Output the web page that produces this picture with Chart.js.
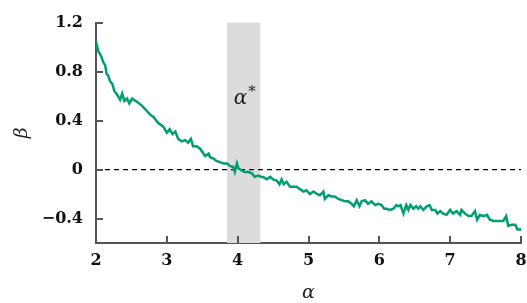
<!DOCTYPE html>
<html>
<head>
<meta charset="utf-8">
<script src="https://cdn.jsdelivr.net/npm/chart.js@4"></script>
<style>
  html, body { margin: 0; padding: 0; background: #fff; }
  #wrap { width: 527px; height: 303px; }
</style>
</head>
<body>
<div id="wrap"><canvas id="chart"></canvas></div>
<script>
const alphaVals = [2.00, 2.03, 2.07, 2.10, 2.13, 2.15, 2.17, 2.20, 2.23, 2.26, 2.30, 2.34, 2.37, 2.40, 2.44, 2.47,
  2.51, 2.56, 2.61, 2.65, 2.70, 2.76, 2.81, 2.88, 2.95, 3.00, 3.04, 3.08, 3.12, 3.16, 3.21, 3.26, 3.30, 3.34,
  3.37, 3.42, 3.47, 3.54, 3.59, 3.61, 3.66, 3.70, 3.75, 3.80, 3.85, 3.89, 3.94, 3.96, 3.99, 4.01, 4.06, 4.10,
  4.15, 4.20, 4.24, 4.29, 4.34, 4.36, 4.41, 4.46, 4.50, 4.55, 4.59, 4.62, 4.65, 4.69, 4.74, 4.79, 4.83, 4.88,
  4.93, 4.97, 5.02, 5.07, 5.12, 5.16, 5.21, 5.23, 5.28, 5.33, 5.37, 5.42, 5.47, 5.52, 5.56, 5.61, 5.64, 5.68,
  5.72, 5.75, 5.80, 5.84, 5.89, 5.94, 5.99, 6.03, 6.07, 6.10, 6.15, 6.20, 6.24, 6.27, 6.30, 6.34, 6.38, 6.41,
  6.44, 6.48, 6.52, 6.55, 6.58, 6.62, 6.67, 6.71, 6.74, 6.79, 6.82, 6.86, 6.90, 6.95, 7.00, 7.04, 7.09, 7.14,
  7.16, 7.21, 7.26, 7.30, 7.35, 7.38, 7.42, 7.47, 7.52, 7.56, 7.61, 7.66, 7.70, 7.75, 7.79, 7.82, 7.87, 7.92,
  7.95, 7.99, 8.00];
const betaVals = [1.05, 0.97, 0.93, 0.88, 0.85, 0.78, 0.77, 0.72, 0.70, 0.64, 0.61, 0.57, 0.62, 0.56, 0.58, 0.54,
  0.58, 0.56, 0.54, 0.52, 0.49, 0.45, 0.43, 0.38, 0.35, 0.30, 0.33, 0.29, 0.31, 0.25, 0.23, 0.24, 0.22, 0.25,
  0.19, 0.19, 0.17, 0.11, 0.13, 0.10, 0.09, 0.07, 0.06, 0.05, 0.05, 0.03, 0.02, -0.02, 0.05, 0.01, -0.01, -0.02,
  -0.02, -0.03, -0.06, -0.05, -0.06, -0.06, -0.08, -0.06, -0.08, -0.09, -0.12, -0.08, -0.12, -0.10, -0.14, -0.14, -0.14, -0.16,
  -0.18, -0.17, -0.20, -0.18, -0.20, -0.21, -0.18, -0.24, -0.21, -0.22, -0.22, -0.24, -0.25, -0.26, -0.26, -0.28, -0.30, -0.25,
  -0.30, -0.26, -0.25, -0.28, -0.26, -0.29, -0.28, -0.29, -0.32, -0.32, -0.33, -0.32, -0.29, -0.30, -0.29, -0.36, -0.29, -0.33,
  -0.29, -0.32, -0.30, -0.32, -0.30, -0.33, -0.30, -0.29, -0.33, -0.33, -0.36, -0.34, -0.36, -0.37, -0.33, -0.36, -0.34, -0.37,
  -0.33, -0.36, -0.38, -0.38, -0.34, -0.41, -0.37, -0.38, -0.37, -0.41, -0.42, -0.42, -0.42, -0.42, -0.38, -0.46, -0.45, -0.45,
  -0.49, -0.49, -0.48];

const xTicks = [2, 3, 4, 5, 6, 7, 8];
const yTicks = [-0.4, 0, 0.4, 0.8, 1.2];
const zeroLine = [[2, 0], [8, 0]];
const band = [3.85, 4.32];           // shaded alpha* interval
const bandLabelAt = [4.08, 0.57];    // where "α*" sits

const serif = 'DejaVu Serif';
const axisColor = '#555';

const fmt = v => (v < 0 ? '\u2212' + Math.abs(v) : String(v));

// shaded band behind lines, inward tick marks and the α* label on top
const decorations = {
  id: 'decorations',
  beforeDatasetsDraw(chart) {
    const { ctx, chartArea, scales: { x } } = chart;
    const x0 = x.getPixelForValue(band[0]);
    const x1 = x.getPixelForValue(band[1]);
    ctx.save();
    ctx.fillStyle = '#dcdcdc';
    ctx.fillRect(x0, chartArea.top, x1 - x0, chartArea.bottom - chartArea.top);
    ctx.restore();
  },
  afterDraw(chart) {
    const { ctx, chartArea, scales: { x, y } } = chart;
    ctx.save();
    ctx.strokeStyle = axisColor;
    ctx.lineWidth = 2;
    ctx.beginPath();
    xTicks.forEach(t => {
      const px = Math.round(x.getPixelForValue(t));
      ctx.moveTo(px, chartArea.bottom);
      ctx.lineTo(px, chartArea.bottom - 7);
    });
    yTicks.forEach(t => {
      const py = Math.round(y.getPixelForValue(t));
      ctx.moveTo(chartArea.left, py);
      ctx.lineTo(chartArea.left + 7, py);
    });
    ctx.stroke();

    const lx = x.getPixelForValue(bandLabelAt[0]);
    const ly = y.getPixelForValue(bandLabelAt[1]);
    ctx.fillStyle = '#222';
    ctx.textBaseline = 'alphabetic';
    ctx.textAlign = 'right';
    ctx.font = 'italic 20px ' + serif;
    ctx.fillText('\u03b1', lx + 4, ly + 4);
    ctx.textAlign = 'left';
    ctx.font = '15px ' + serif;
    ctx.fillText('*', lx + 5, ly - 4);
    ctx.restore();
  }
};

new Chart(document.getElementById('chart'), {
  type: 'line',
  data: {
    datasets: [
      {
        data: alphaVals.map((a, i) => ({ x: a, y: betaVals[i] })),
        borderColor: '#009E73',
        borderWidth: 2.5,
        pointRadius: 0,
        tension: 0,
      },
      {
        data: zeroLine.map(p => ({ x: p[0], y: p[1] })),
        borderColor: '#000',
        borderWidth: 1.3,
        borderDash: [5, 4],
        pointRadius: 0,
      },
    ],
  },
  options: {
    responsive: true,
    maintainAspectRatio: false,
    animation: false,
    layout: { padding: { top: 18, right: 0, left: 0, bottom: 0 } },
    plugins: { legend: { display: false }, tooltip: { enabled: false } },
    scales: {
      x: {
        type: 'linear',
        min: 2,
        max: 8,
        afterBuildTicks: s => { s.ticks = xTicks.map(v => ({ value: v })); },
        afterFit: s => { s.height = 60; s.paddingRight = 6; s.paddingLeft = 0; },
        grid: { display: false, drawTicks: false },
        border: { display: true, color: axisColor, width: 2 },
        ticks: {
          padding: 8,
          color: '#111',
          font: { family: serif, size: 16, weight: 'bold' },
          callback: v => fmt(v),
        },
        title: {
          display: true,
          text: '\u03b1',
          color: '#222',
          padding: { top: 0, bottom: 0 },
          font: { family: serif, size: 19, style: 'italic', lineHeight: 1 },
        },
      },
      y: {
        type: 'linear',
        min: -0.6,
        max: 1.2,
        afterBuildTicks: s => { s.ticks = yTicks.map(v => ({ value: v })); },
        afterFit: s => { s.width = 96; },
        grid: { display: false, drawTicks: false },
        border: { display: true, color: axisColor, width: 2 },
        ticks: {
          padding: 13,
          color: '#111',
          font: { family: serif, size: 16, weight: 'bold' },
          callback: v => fmt(v),
        },
        title: {
          display: true,
          text: '\u03b2',
          color: '#222',
          padding: { top: 13, bottom: 0 },
          font: { family: serif, size: 19, style: 'italic', lineHeight: 1 },
        },
      },
    },
  },
  plugins: [decorations],
});
</script>
</body>
</html>
